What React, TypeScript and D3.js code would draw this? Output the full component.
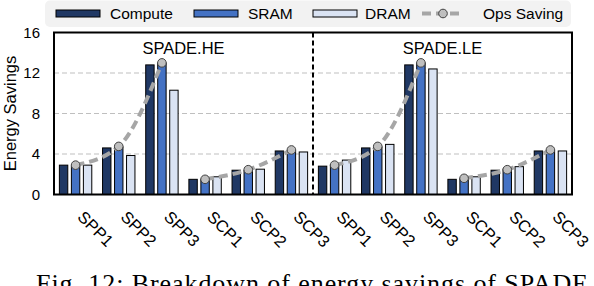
import React from "react";
import * as d3 from "d3";

const categories = ["SPP1", "SPP2", "SPP3", "SCP1", "SCP2", "SCP3"];
const panels = ["SPADE.HE", "SPADE.LE"];
const seriesNames = ["Compute", "SRAM", "DRAM"];
const seriesColors = ["#203864", "#4472c4", "#dae3f3"];

const computeHE = [2.9, 4.6, 12.8, 1.5, 2.4, 4.3];
const sramHE = [2.8, 4.7, 13.0, 1.5, 2.4, 4.3];
const dramHE = [2.9, 3.85, 10.3, 1.75, 2.5, 4.2];
const opsHE = [2.9, 4.75, 13.0, 1.5, 2.45, 4.4];

const computeLE = [2.8, 4.6, 12.8, 1.5, 2.4, 4.3];
const sramLE = [2.9, 4.7, 13.0, 1.6, 2.5, 4.3];
const dramLE = [3.4, 4.95, 12.4, 1.75, 2.75, 4.3];
const opsLE = [2.9, 4.75, 13.0, 1.6, 2.45, 4.4];

const yTicks = [0, 4, 8, 12, 16];

const W = 594;
const H = 286;
const L = 54;
const R = 572;
const T = 32.5;
const B = 194.5;
const FONT = "'Liberation Sans', Arimo, Arial, sans-serif";

export default function App() {
  const panelSeries = [
    [computeHE, sramHE, dramHE],
    [computeLE, sramLE, dramLE],
  ];
  const panelOps = [opsHE, opsLE];
  const groupKeys = panels.flatMap((p, pi) => categories.map((c, ci) => `${pi}-${ci}`));
  const x = d3.scaleBand<string>().domain(groupKeys).range([L, R]).padding(0);
  const inner = d3
    .scaleBand<string>()
    .domain(seriesNames)
    .range([-18, 18])
    .paddingInner(0.3)
    .paddingOuter(0.15);
  const y = d3.scaleLinear().domain([0, 16]).range([B, T]);

  const gc = (pi: number, ci: number) => (x(`${pi}-${ci}`) as number) + x.bandwidth() / 2;
  const divX = x(`1-0`) as number;
  const sramCenter = (inner(seriesNames[1]) as number) + inner.bandwidth() / 2;

  const lineGen = (pi: number, vals: number[], offset: number) =>
    d3
      .line<number>()
      .x((_, i) => gc(pi, i + offset) + sramCenter)
      .y((d) => y(d))
      .curve(d3.curveMonotoneX)(vals) as string;

  const legendItems = [
    { label: "Compute", sx: 56, tx: 110, kind: 0 },
    { label: "SRAM", sx: 194, tx: 248, kind: 1 },
    { label: "DRAM", sx: 313, tx: 365, kind: 2 },
    { label: "Ops Saving", sx: 422, tx: 483, kind: 3 },
  ];

  return (
    <svg
      width={W}
      height={H}
      style={{ position: "absolute", left: 0, top: 0, background: "#fff" }}
      fontFamily={FONT}
    >
      {/* legend */}
      <rect x={45} y={0.5} width={526} height={26.5} rx={5} fill="#f2f2f2" />
      {legendItems.map((it) => (
        <g key={it.label}>
          {it.kind < 3 ? (
            <rect
              x={it.sx}
              y={10}
              width={44}
              height={7}
              fill={seriesColors[it.kind]}
              stroke="#000"
              strokeWidth={1}
            />
          ) : (
            <g>
              <line
                x1={it.sx}
                x2={it.sx + 42}
                y1={13.5}
                y2={13.5}
                stroke="#a6a6a6"
                strokeWidth={4}
                strokeDasharray="9,5"
              />
              <circle cx={it.sx + 21} cy={13.5} r={4.3} fill="#bfbfbf" stroke="#404040" strokeWidth={1} />
            </g>
          )}
          <text x={it.tx} y={19} fontSize={15.5} fill="#000">
            {it.label}
          </text>
        </g>
      ))}

      {/* gridlines */}
      {yTicks
        .filter((t) => t > 0 && t < 16)
        .map((t) => (
          <line
            key={t}
            x1={L}
            x2={R}
            y1={y(t)}
            y2={y(t)}
            stroke="#bfbfbf"
            strokeWidth={1}
            strokeDasharray="5,3"
          />
        ))}

      {/* y tick labels */}
      {yTicks.map((t) => (
        <text key={t} x={40} y={y(t) + 5} fontSize={15} textAnchor="end" fill="#000">
          {t}
        </text>
      ))}
      <text
        transform={`translate(16,${(T + B) / 2}) rotate(-90)`}
        textAnchor="middle"
        fontSize={16.5}
        fill="#000"
      >
        Energy Savings
      </text>

      {/* bars */}
      {panelSeries.map((ser, pi) =>
        ser.map((vals, si) =>
          vals.map((v, ci) => (
            <rect
              key={`${pi}-${si}-${ci}`}
              x={gc(pi, ci) + (inner(seriesNames[si]) as number)}
              y={y(v)}
              width={inner.bandwidth()}
              height={B - y(v)}
              fill={seriesColors[si]}
              stroke="#000"
              strokeWidth={1}
            />
          ))
        )
      )}

      {/* ops saving lines */}
      {panelOps.map((ops, pi) => (
        <g key={pi}>
          {[0, 3].map((off) => (
            <path
              key={off}
              d={lineGen(pi, ops.slice(off, off + 3), off)}
              fill="none"
              stroke="#a6a6a6"
              strokeWidth={4}
              strokeDasharray="9,5"
            />
          ))}
          {ops.map((v, ci) => (
            <circle
              key={ci}
              cx={gc(pi, ci) + sramCenter}
              cy={y(v)}
              r={4.3}
              fill="#bfbfbf"
              stroke="#404040"
              strokeWidth={1}
            />
          ))}
        </g>
      ))}

      {/* panel titles */}
      {panels.map((p, pi) => (
        <text
          key={p}
          x={pi === 0 ? (L + divX) / 2 : (divX + R) / 2}
          y={54}
          textAnchor="middle"
          fontSize={16.5}
          fill="#000"
        >
          {p}
        </text>
      ))}

      {/* divider */}
      <line x1={divX} x2={divX} y1={T} y2={B} stroke="#000" strokeWidth={2} strokeDasharray="5,3" />

      {/* frame */}
      <rect x={L} y={T} width={R - L} height={B - T} fill="none" stroke="#000" strokeWidth={2} />

      {/* x tick labels */}
      {groupKeys.map((k, i) => {
        const pi = Math.floor(i / categories.length);
        const ci = i % categories.length;
        return (
          <text
            key={k}
            transform={`translate(${gc(pi, ci) + 1},${218}) rotate(45)`}
            fontSize={16.5}
            fill="#000"
          >
            {categories[ci]}
          </text>
        );
      })}

      {/* caption (cut off at the bottom edge, as in the reference) */}
      <text
        x={36}
        y={292}
        fontSize={26}
        fontFamily="'Liberation Serif', 'Times New Roman', serif"
        fill="#000"
        textLength={552}
        lengthAdjust="spacing"
      >
        Fig. 12: Breakdown of energy savings of SPADE
      </text>
    </svg>
  );
}
